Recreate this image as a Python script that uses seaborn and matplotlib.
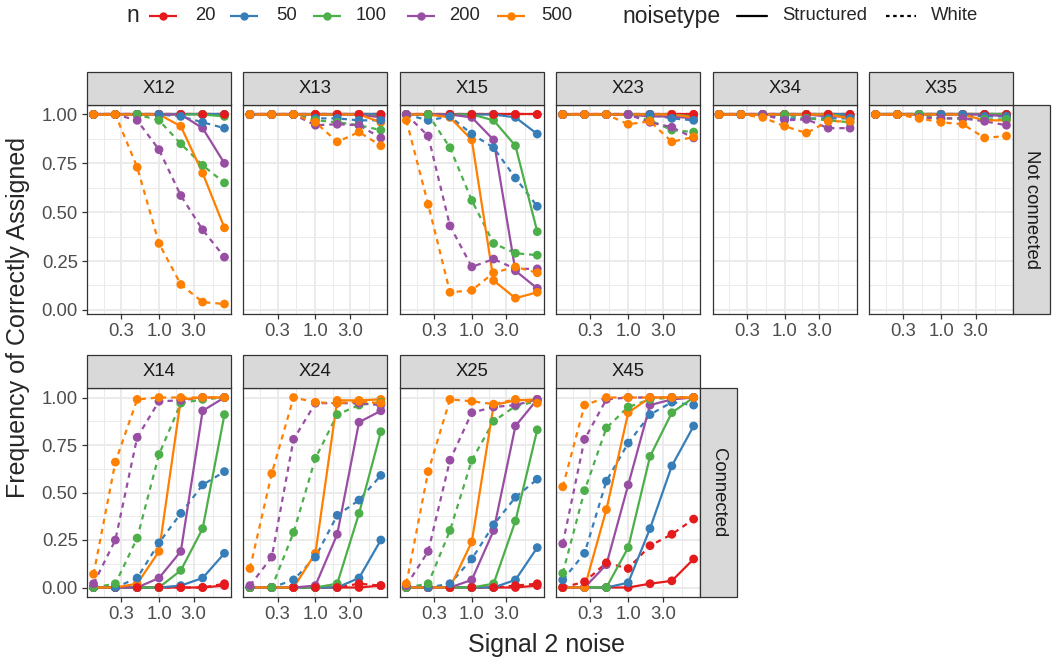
import numpy as np
import pandas as pd
import seaborn as sns
import matplotlib.pyplot as plt
from matplotlib.lines import Line2D
from matplotlib.patches import Rectangle

noise = [0.125, 0.25, 0.5, 1, 2, 4, 8]
n_levels = [20, 50, 100, 200, 500]
colors = ["#E41A1C", "#377EB8", "#4DAF4A", "#984EA3", "#FF7F00"]

# each block: one row per n (20, 50, 100, 200, 500), one value per noise level
X12_structured = [[1, 1, 1, 1, 1, 1, 1],
                  [1, 1, 1, 1, 1, 1, 1],
                  [1, 1, 1, 1, 1, 1, 0.99],
                  [1, 1, 1, 1, 1, 0.93, 0.75],
                  [1, 1, 1, 1, 0.94, 0.70, 0.42]]
X12_white = [[1, 1, 1, 1, 1, 1, 1],
             [1, 1, 1, 1, 0.99, 0.96, 0.93],
             [1, 1, 1, 0.97, 0.85, 0.74, 0.65],
             [1, 1, 0.97, 0.82, 0.585, 0.41, 0.27],
             [1, 1, 0.73, 0.34, 0.13, 0.04, 0.03]]

X13_structured = [[1, 1, 1, 1, 1, 1, 1],
                  [1, 1, 1, 1, 1, 1, 1],
                  [1, 1, 1, 1, 1, 1, 0.99],
                  [1, 1, 1, 1, 1, 1, 0.985],
                  [1, 1, 1, 1, 1, 1, 0.96]]
X13_white = [[1, 1, 1, 1, 1, 1, 1],
             [1, 1, 1, 0.98, 0.98, 0.97, 0.97],
             [1, 1, 1, 0.97, 0.96, 0.945, 0.92],
             [1, 1, 1, 0.945, 0.95, 0.945, 0.88],
             [1, 1, 1, 0.96, 0.86, 0.91, 0.84]]

X15_structured = [[1, 1, 1, 1, 1, 1, 1],
                  [1, 1, 1, 1, 1, 0.985, 0.90],
                  [1, 1, 1, 1, 0.97, 0.84, 0.40],
                  [1, 1, 1, 0.985, 0.87, 0.20, 0.11],
                  [1, 1, 0.985, 0.87, 0.15, 0.06, 0.09]]
X15_white = [[1, 1, 1, 1, 1, 1, 1],
             [1, 0.97, 0.99, 0.90, 0.83, 0.675, 0.53],
             [1, 1, 0.83, 0.56, 0.34, 0.29, 0.28],
             [1, 0.89, 0.43, 0.22, 0.26, 0.21, 0.21],
             [0.97, 0.54, 0.09, 0.10, 0.19, 0.22, 0.19]]

X23_structured = [[1, 1, 1, 1, 1, 1, 1],
                  [1, 1, 1, 1, 1, 1, 0.98],
                  [1, 1, 1, 1, 1, 1, 0.99],
                  [1, 1, 1, 1, 0.99, 0.99, 0.98],
                  [1, 1, 1, 1, 1, 1, 0.985]]
X23_white = [[1, 1, 1, 1, 1, 1, 1],
             [1, 1, 1, 1, 1, 0.98, 0.97],
             [1, 1, 1, 1, 0.97, 0.92, 0.91],
             [1, 1, 1, 1, 0.96, 0.935, 0.88],
             [1, 1, 1, 0.95, 0.965, 0.86, 0.885]]

X34_structured = [[1, 1, 1, 1, 1, 1, 1],
                  [1, 1, 1, 1, 1, 1, 1],
                  [1, 1, 1, 1, 1, 1, 0.99],
                  [1, 1, 1, 1, 1, 0.99, 0.99],
                  [1, 1, 1, 1, 1, 1, 0.98]]
X34_white = [[1, 1, 1, 1, 1, 1, 1],
             [1, 1, 1, 0.98, 0.98, 0.98, 0.98],
             [1, 1, 1, 1, 0.98, 0.97, 0.96],
             [1, 1, 1, 0.97, 0.975, 0.93, 0.93],
             [1, 1, 0.985, 0.94, 0.905, 0.965, 0.965]]

X35_structured = [[1, 1, 1, 1, 1, 1, 1],
                  [1, 1, 1, 1, 1, 1, 1],
                  [1, 1, 1, 1, 1, 1, 1],
                  [1, 1, 1, 1, 1, 1, 0.99],
                  [1, 1, 1, 1, 1, 0.97, 0.97]]
X35_white = [[1, 1, 1, 1, 1, 1, 1],
             [1, 1, 1, 1, 1, 0.99, 0.99],
             [1, 1, 1, 0.98, 0.98, 0.975, 0.975],
             [1, 1, 0.985, 0.98, 0.98, 0.965, 0.945],
             [1, 1, 0.98, 0.96, 0.95, 0.88, 0.89]]

X14_structured = [[0, 0, 0, 0, 0, 0, 0.01],
                  [0, 0, 0, 0, 0.01, 0.05, 0.18],
                  [0, 0, 0, 0, 0.09, 0.31, 0.91],
                  [0, 0, 0, 0.05, 0.19, 0.93, 1.0],
                  [0, 0, 0.02, 0.19, 0.99, 1, 1]]
X14_white = [[0, 0, 0, 0, 0, 0, 0.02],
             [0, 0, 0.05, 0.235, 0.39, 0.54, 0.61],
             [0, 0.02, 0.26, 0.70, 0.97, 0.99, 1],
             [0.02, 0.25, 0.79, 0.98, 0.985, 1, 1],
             [0.07, 0.66, 0.99, 1, 1, 1, 1]]

X24_structured = [[0, 0, 0, 0, 0, 0, 0.01],
                  [0, 0, 0, 0, 0, 0.05, 0.25],
                  [0, 0, 0, 0, 0.02, 0.39, 0.82],
                  [0, 0, 0, 0.01, 0.28, 0.87, 0.93],
                  [0, 0, 0, 0.18, 0.985, 0.985, 0.99]]
X24_white = [[0, 0, 0, 0, 0, 0.02, 0.01],
             [0, 0, 0.04, 0.16, 0.38, 0.46, 0.59],
             [0, 0, 0.29, 0.68, 0.91, 0.96, 0.975],
             [0.01, 0.16, 0.78, 0.97, 0.97, 0.97, 0.96],
             [0.10, 0.60, 1.0, 0.975, 0.97, 0.98, 0.97]]

X25_structured = [[0, 0, 0, 0, 0, 0, 0.01],
                  [0, 0, 0, 0, 0, 0.04, 0.21],
                  [0, 0, 0, 0, 0.02, 0.35, 0.83],
                  [0, 0, 0, 0.04, 0.30, 0.85, 0.99],
                  [0, 0, 0, 0.24, 0.96, 0.985, 0.99]]
X25_white = [[0, 0, 0, 0, 0, 0.01, 0.02],
             [0, 0, 0.02, 0.15, 0.33, 0.475, 0.57],
             [0, 0.02, 0.30, 0.67, 0.875, 0.955, 0.98],
             [0.01, 0.19, 0.67, 0.92, 0.95, 0.96, 0.99],
             [0.02, 0.61, 0.99, 0.98, 0.965, 0.99, 0.97]]

X45_structured = [[0, 0, 0, 0, 0.02, 0.035, 0.15],
                  [0, 0, 0, 0.025, 0.31, 0.64, 0.85],
                  [0, 0, 0, 0.21, 0.69, 0.92, 1.0],
                  [0, 0, 0.12, 0.54, 0.96, 0.99, 1.0],
                  [0, 0, 0.41, 0.92, 1, 1, 1]]
X45_white = [[0, 0.03, 0.13, 0.10, 0.22, 0.28, 0.36],
             [0.04, 0.18, 0.56, 0.76, 0.91, 0.975, 0.96],
             [0.075, 0.51, 0.84, 0.95, 0.99, 1, 1],
             [0.23, 0.78, 0.99, 1, 1, 1, 1],
             [0.53, 0.96, 1, 1, 1, 1, 1]]

row1 = [("X12", X12_structured, X12_white), ("X13", X13_structured, X13_white),
        ("X15", X15_structured, X15_white), ("X23", X23_structured, X23_white),
        ("X34", X34_structured, X34_white), ("X35", X35_structured, X35_white)]
row2 = [("X14", X14_structured, X14_white), ("X24", X24_structured, X24_white),
        ("X25", X25_structured, X25_white), ("X45", X45_structured, X45_white)]

records = []
for group, panels in [("Not connected", row1), ("Connected", row2)]:
    for name, structured, white in panels:
        for ntype, block in [("Structured", structured), ("White", white)]:
            for n, vals in zip(n_levels, block):
                for x, v in zip(noise, vals):
                    records.append((group, name, n, ntype, x, v))
df = pd.DataFrame(records, columns=["group", "pair", "n", "noisetype", "noise", "freq"])

sns.set_theme(style="ticks")
plt.rcParams["font.family"] = ["Liberation Sans", "DejaVu Sans"]

W, H = 1054, 665
fig = plt.figure(figsize=(W / 100, H / 100), dpi=100)
pal = dict(zip(n_levels, colors))

def px_rect(left, top, width, height):
    return [left / W, 1 - (top + height) / H, width / W, height / H]

# log-x expanded 5% like ggplot
lx = np.log10(noise)
span = lx.max() - lx.min()
xlim = (10 ** (lx.min() - 0.05 * span), 10 ** (lx.max() + 0.05 * span))
minor_x = [10 ** ((np.log10(a) + np.log10(b)) / 2) for a, b in [(0.1, 0.3), (0.3, 1), (1, 3), (3, 10)]]

col_left, col_step, col_w = 87, 156.4, 144
strip_h = 33
edge = "#333333"

rows = [("Not connected", row1, 105, 208.5), ("Connected", row2, 388, 209)]
for group, panels, top, height in rows:
    gd = df[df.group == group]
    ymin, ymax = gd.freq.min(), gd.freq.max()
    yr = ymax - ymin
    ylim = (ymin - 0.05 * yr, ymax + 0.05 * yr)
    for i, (name, _, _) in enumerate(panels):
        left = col_left + i * col_step
        ax = fig.add_axes(px_rect(left, top, col_w, height))
        sub = gd[gd.pair == name]
        ax.set_xscale("log")
        sns.lineplot(data=sub, x="noise", y="freq", hue="n", style="noisetype",
                     hue_order=n_levels, style_order=["Structured", "White"],
                     palette=pal, dashes={"Structured": "", "White": (2.4, 2.2)},
                     linewidth=1.6, estimator=None, legend=False, ax=ax)
        sns.scatterplot(data=sub, x="noise", y="freq", hue="n", hue_order=n_levels,
                        palette=pal, s=40, linewidth=0, legend=False, ax=ax, zorder=3)
        ax.set_xlim(xlim)
        ax.set_ylim(ylim)
        ax.set_xticks([0.3, 1, 3])
        ax.set_xticklabels(["0.3", "1.0", "3.0"])
        ax.set_xticks(minor_x, minor=True)
        ax.set_yticks([0, 0.25, 0.5, 0.75, 1])
        ax.set_yticklabels(["0.00", "0.25", "0.50", "0.75", "1.00"])
        ax.set_yticks([0.125, 0.375, 0.625, 0.875], minor=True)
        ax.set_axisbelow(True)
        ax.grid(which="major", color="#EBEBEB", linewidth=1.4)
        ax.grid(which="minor", color="#EBEBEB", linewidth=0.7)
        ax.tick_params(which="minor", length=0)
        ax.tick_params(which="major", length=3.6, width=0.9, color=edge,
                       labelsize=13.3, labelcolor="#4D4D4D", pad=3)
        if i > 0:
            ax.tick_params(axis="y", left=False, labelleft=False)
        ax.set_xlabel("")
        ax.set_ylabel("")
        for sp in ax.spines.values():
            sp.set_color(edge)
            sp.set_linewidth(0.9)
        # top strip
        fig.add_artist(Rectangle((left / W, 1 - top / H), col_w / W, strip_h / H,
                                 transform=fig.transFigure, facecolor="#D9D9D9",
                                 edgecolor=edge, linewidth=0.9))
        fig.text((left + col_w / 2) / W, 1 - (top - strip_h / 2) / H, name,
                 ha="center", va="center", fontsize=13.3, color="#1A1A1A")
    # right strip
    rl = col_left + (len(panels) - 1) * col_step + col_w
    fig.add_artist(Rectangle((rl / W, 1 - (top + height) / H), 37 / W, height / H,
                             transform=fig.transFigure, facecolor="#D9D9D9",
                             edgecolor=edge, linewidth=0.9))
    fig.text((rl + 18.5) / W, 1 - (top + height / 2) / H, group, rotation=270,
             ha="center", va="center", fontsize=13.3, color="#1A1A1A")

fig.text(547 / W, 1 - 645 / H, "Signal 2 noise", ha="center", va="center", fontsize=18)
fig.text(18 / W, 1 - 318 / H, "Frequency of Correctly Assigned", rotation=90,
         ha="center", va="center", fontsize=18)

# legend along the top
ly = 1 - 16 / H
fig.text(126 / W, ly, "n", ha="left", va="center", fontsize=16.5)
n_keys = [(149, 195), (230, 276), (313, 356), (407, 449), (497, 541)]
for (kx, tx), n, c in zip(n_keys, n_levels, colors):
    fig.add_artist(Line2D([kx / W, (kx + 28) / W], [ly, ly], transform=fig.transFigure,
                          color=c, linewidth=1.6, marker="", solid_capstyle="butt"))
    fig.add_artist(Line2D([(kx + 14) / W], [ly], transform=fig.transFigure,
                          color=c, marker="o", markersize=6, markeredgewidth=0))
    fig.text(tx / W, ly, str(n), ha="left", va="center", fontsize=13.3)
fig.text(622 / W, ly, "noisetype", ha="left", va="center", fontsize=16.5)
for kx, tx, lab, ls in [(737, 782, "Structured", "-"), (886, 931, "White", (0, (1.6, 1.6)))]:
    fig.add_artist(Line2D([kx / W, (kx + 30) / W], [ly, ly], transform=fig.transFigure,
                          color="black", linewidth=1.6, linestyle=ls))
    fig.text(tx / W, ly, lab, ha="left", va="center", fontsize=13.3)

fig.savefig("out.png", dpi=100)
